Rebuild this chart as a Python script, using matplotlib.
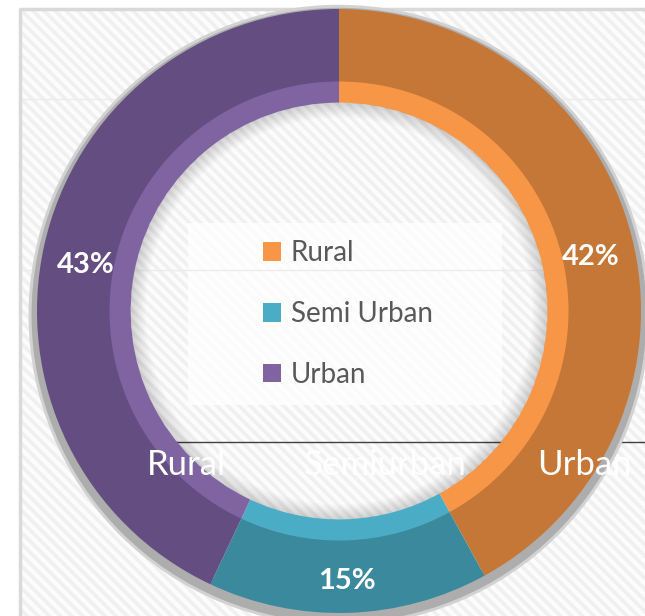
import numpy as np
import matplotlib.pyplot as plt
from matplotlib.patches import Wedge, Rectangle

labels = ['Rural', 'Semi Urban', 'Urban']
shares = [42, 15, 43]
axis_cats = ['Rural', 'Semiurban', 'Urban']   # labels of the hidden axis underneath

dark = ['#C57737', '#3B899C', '#634D81']    # outer band
light = ['#F79646', '#4BACC6', '#8064A2']   # inner bevel band

W, H = 645, 616
plt.rcParams['hatch.linewidth'] = 2.6

fig = plt.figure(figsize=(W/100, H/100), dpi=100)

# background layer in pixel coords
bg = fig.add_axes([0, 0, 1, 1])
bg.set_xlim(0, W)
bg.set_ylim(H, 0)
bg.axis('off')
bg.add_patch(Rectangle((20, 9), W, H, facecolor='#fcfcfc', edgecolor='#f0f0f0',
                       hatch='\\\\\\', lw=0))
bg.plot([20, 20, W], [H, 9, 9], color='#d9d9d9', lw=2.5)
for gy in [99, 270]:
    bg.plot([22, W], [gy, gy], color='#ececec', lw=1)
bg.plot([87, W], [442, 442], color='#404040', lw=1)    # axis line (behind ring)
bg.add_patch(Rectangle((188, 223), 314, 182, facecolor='white', alpha=0.75, lw=0))

# donut
cx, cy, R = 339, 311, 302
span = 1.12
pax = fig.add_axes([(cx - R*span)/W, 1 - (cy + R*span)/H, 2*R*span/W, 2*R*span/H])
pax.patch.set_visible(False)

pax.add_patch(Wedge((0, -0.014), 1.028, 0, 360, width=0.06, color='#d2d2d2', lw=0))
pax.add_patch(Wedge((0, -0.014), 1.018, 0, 360, width=0.05, color='#adadad', lw=0))

outer, _, pct = pax.pie(shares, colors=dark, startangle=90, counterclock=False,
                        radius=1, wedgeprops=dict(width=0.245, lw=0),
                        autopct='%.0f%%', pctdistance=0.86,
                        textprops=dict(color='white', fontsize=21,
                                       fontweight='bold', family='Lato'))
# labels sit a little lower than the wedge middle in the original
for t in pct:
    px, py = t.get_position()
    t.set_position((px, py - 0.035))

inner, _ = pax.pie(shares, colors=light, startangle=90, counterclock=False,
                   radius=0.76, wedgeprops=dict(width=0.07, lw=0))

# soft shadow inside the hole
for k in range(10):
    pax.add_patch(Wedge((0, 0), 0.69, 0, 360, width=0.005*(k+1),
                        color='black', alpha=0.015, lw=0))

pax.set_xlim(-span, span)
pax.set_ylim(-span, span)
pax.set_aspect('equal')

fig.legend(inner, labels, loc='center', bbox_to_anchor=(348/W, 1 - 314/H),
           frameon=False, prop=dict(family='Lato', size=20), labelcolor='#595959',
           handlelength=0.65, handleheight=0.65, handletextpad=0.35,
           labelspacing=1.25)

# white category labels of the underlying axis
for i, c in enumerate(axis_cats):
    fig.text(186 + i*199, 475, c, transform=bg.transData, ha='center',
             va='baseline', color='white', fontsize=25, family='Lato')

fig.savefig('out.png', dpi=100)
